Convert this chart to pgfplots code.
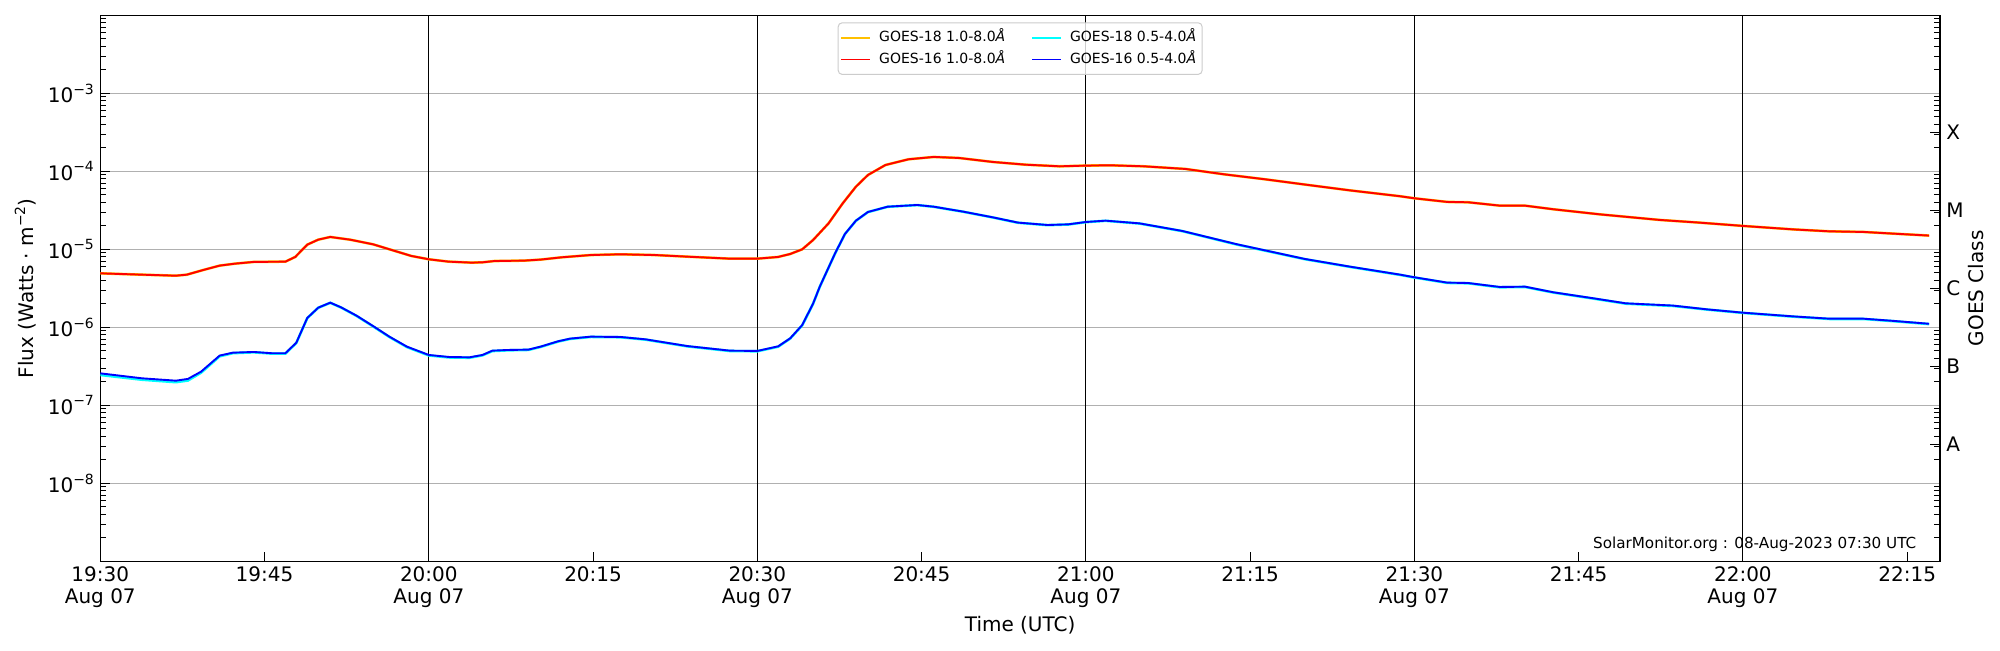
\documentclass[border=0pt]{standalone}
\usepackage{fontspec}
\setmainfont{DejaVu Sans}
\usepackage{pgfplots}
\usepackage{pgfplotstable}
\pgfplotsset{compat=1.18}
\definecolor{goesgold}{RGB}{255,192,0}
\definecolor{goescyan}{RGB}{0,255,255}
\definecolor{gridgray}{RGB}{176,176,176}
\definecolor{leggray}{RGB}{204,204,204}
\newcommand{\sexp}[1]{\raisebox{4.3pt}{\fontsize{7}{7}\selectfont −#1}}

\pgfplotstableread{
t f
0 4.92e-6
3.8 4.73e-6
6.9 4.59e-6
7.9 4.73e-6
9.4 5.43e-6
10.9 6.18e-6
12.3 6.55e-6
14 6.89e-6
16.9 6.95e-6
17.8 7.98e-6
18.9 1.148e-5
19.9 1.33e-5
21 1.44e-5
22.8 1.33e-5
24.9 1.16e-5
26.8 9.62e-6
28.4 8.22e-6
30 7.45e-6
31.8 6.95e-6
33.9 6.75e-6
34.9 6.81e-6
36 7.08e-6
38.7 7.16e-6
40.2 7.38e-6
42.1 7.89e-6
44.8 8.45e-6
47.5 8.63e-6
50.6 8.45e-6
53.6 8.05e-6
57.5 7.59e-6
60 7.59e-6
61.9 7.98e-6
63 8.71e-6
64.1 1.0e-5
65.1 1.32e-5
66.5 2.15e-5
67.8 3.89e-5
69 6.35e-5
70.1 8.97e-5
71.7 1.205e-4
73.8 1.426e-4
76.1 1.528e-4
78.4 1.483e-4
81.5 1.318e-4
84.5 1.216e-4
87.6 1.159e-4
90 1.183e-4
92.2 1.194e-4
95.3 1.159e-4
99.1 1.072e-4
102.6 9.16e-5
106.4 7.89e-5
110.3 6.68e-5
114.1 5.70e-5
118.7 4.79e-5
120 4.51e-5
123 4.05e-5
124.9 4.01e-5
127.8 3.63e-5
130.1 3.63e-5
132.7 3.26e-5
136.9 2.81e-5
142.4 2.38e-5
146 2.20e-5
150 1.995e-5
154.6 1.80e-5
157.9 1.70e-5
161 1.67e-5
163.7 1.59e-5
167 1.50e-5
}\tlong

\pgfplotstableread{
t f
0 2.57e-7
3.8 2.22e-7
6.9 2.07e-7
8 2.18e-7
9.2 2.70e-7
10.9 4.34e-7
12.1 4.73e-7
14 4.83e-7
15.7 4.65e-7
16.9 4.65e-7
17.9 6.35e-7
18.9 1.318e-6
19.9 1.786e-6
21 2.07e-6
22 1.80e-6
23.4 1.41e-6
24.9 1.04e-6
26.4 7.59e-7
28 5.65e-7
30 4.42e-7
31.8 4.17e-7
33.7 4.12e-7
34.9 4.42e-7
35.8 5.02e-7
37.2 5.12e-7
39.1 5.18e-7
40.2 5.65e-7
41.8 6.62e-7
42.9 7.16e-7
44.8 7.59e-7
47.5 7.52e-7
49.8 7.01e-7
53.6 5.75e-7
57.5 5.02e-7
60 4.98e-7
61.9 5.70e-7
63 7.23e-7
64.1 1.07e-6
65.1 2.03e-6
65.7 3.32e-6
67.1 8.89e-6
68 1.574e-5
69 2.33e-5
70.1 3.01e-5
71.9 3.52e-5
74.6 3.70e-5
76.1 3.52e-5
78.8 3.04e-5
81.5 2.57e-5
83.8 2.20e-5
86.5 2.05e-5
88.4 2.09e-5
90 2.24e-5
91.8 2.33e-5
94.9 2.15e-5
98.8 1.72e-5
103.8 1.16e-5
110 7.52e-6
114.1 6.00e-6
118.7 4.73e-6
120 4.38e-6
123 3.74e-6
124.9 3.70e-6
127.8 3.29e-6
130.1 3.32e-6
132.7 2.81e-6
136.3 2.36e-6
139.3 2.03e-6
143.6 1.90e-6
146.7 1.70e-6
150 1.54e-6
154.6 1.38e-6
157.9 1.29e-6
161 1.29e-6
163.7 1.21e-6
167 1.11e-6
}\tshort

\pgfplotstableread{
t f
0 2.45e-7
3.8 2.13e-7
6.9 1.98e-7
8 2.08e-7
9.2 2.62e-7
10.9 4.25e-7
12.1 4.66e-7
14 4.78e-7
15.7 4.60e-7
16.9 4.60e-7
17.9 6.30e-7
18.9 1.31e-6
19.9 1.78e-6
21 2.06e-6
22 1.79e-6
23.4 1.40e-6
24.9 1.03e-6
26.4 7.52e-7
28 5.58e-7
30 4.36e-7
31.8 4.11e-7
33.7 4.07e-7
34.9 4.37e-7
35.8 4.96e-7
37.2 5.07e-7
39.1 5.13e-7
40.2 5.60e-7
41.8 6.56e-7
42.9 7.10e-7
44.8 7.53e-7
47.5 7.46e-7
49.8 6.95e-7
53.6 5.70e-7
57.5 4.97e-7
60 4.93e-7
61.9 5.64e-7
63 7.18e-7
64.1 1.06e-6
65.1 2.02e-6
65.7 3.30e-6
67.1 8.85e-6
68 1.57e-5
69 2.32e-5
70.1 3.00e-5
71.9 3.51e-5
74.6 3.69e-5
76.1 3.51e-5
78.8 3.03e-5
81.5 2.56e-5
83.8 2.19e-5
86.5 2.04e-5
88.4 2.08e-5
90 2.23e-5
91.8 2.32e-5
94.9 2.14e-5
98.8 1.71e-5
103.8 1.15e-5
110 7.47e-6
114.1 5.96e-6
118.7 4.70e-6
120 4.35e-6
123 3.71e-6
124.9 3.67e-6
127.8 3.26e-6
130.1 3.29e-6
132.7 2.79e-6
136.3 2.34e-6
139.3 2.01e-6
143.6 1.88e-6
146.7 1.69e-6
150 1.53e-6
154.6 1.37e-6
157.9 1.28e-6
161 1.28e-6
163.7 1.20e-6
167 1.10e-6
}\tshorteighteen

\begin{document}
\begin{tikzpicture}
\begin{axis}[
  at={(0,0)}, anchor=south west,
  scale only axis, width=919.85pt, height=273pt,
  xmin=0, xmax=168,
  ymode=log, ymin=1e-9, ymax=1e-2,
  axis line style={line width=0.6pt},
  tick align=inside, tick pos=left,
  major tick length=4.8pt, minor tick length=3pt,
  every tick/.style={black, line width=0.55pt},
  xtick={15,45,75,105,135,165},
  xticklabels={{19:45},{20:15},{20:45},{21:15},{21:45},{22:15}},
  extra x ticks={0,30,60,90,120,150},
  extra x tick labels={{19:30\\Aug 07},{20:00\\Aug 07},{20:30\\Aug 07},{21:00\\Aug 07},{21:30\\Aug 07},{22:00\\Aug 07}},
  extra x tick style={major tick length=0pt, grid=major, major grid style={black, line width=0.55pt}},
  xticklabel style={anchor=north, align=center, inner sep=0pt, yshift=-2.7pt, font=\fontsize{10}{11}\selectfont},
  ytick={1e-8,1e-7,1e-6,1e-5,1e-4,1e-3},
  yticklabels={10\sexp{8},10\sexp{7},10\sexp{6},10\sexp{5},10\sexp{4},10\sexp{3}},
  minor ytick={2e-9,3e-9,4e-9,5e-9,6e-9,7e-9,8e-9,9e-9,2e-8,3e-8,4e-8,5e-8,6e-8,7e-8,8e-8,9e-8,2e-7,3e-7,4e-7,5e-7,6e-7,7e-7,8e-7,9e-7,2e-6,3e-6,4e-6,5e-6,6e-6,7e-6,8e-6,9e-6,2e-5,3e-5,4e-5,5e-5,6e-5,7e-5,8e-5,9e-5,2e-4,3e-4,4e-4,5e-4,6e-4,7e-4,8e-4,9e-4,2e-3,3e-3,4e-3,5e-3,6e-3,7e-3,8e-3,9e-3},
  yticklabel style={anchor=east, inner sep=0pt, xshift=-3pt, font=\fontsize{10}{11}\selectfont},
  ymajorgrids, major grid style={gridgray, line width=0.55pt},
  xlabel={Time (UTC)},
  xlabel style={at={(axis description cs:0.5,0)}, anchor=north, inner sep=0pt, yshift=-27.3pt, font=\fontsize{10}{12}\selectfont},
  ylabel={Flux (Watts · m\raisebox{4.3pt}{\fontsize{7}{7}\selectfont −2})},
  ylabel style={at={(axis description cs:0,0.5)}, anchor=center, inner sep=0pt, yshift=37.4pt, font=\fontsize{10}{12}\selectfont},
  legend columns=2,
  legend style={at={(0.5,1)}, anchor=north, yshift=-3.5pt, draw=leggray, line width=0.5pt, rounded corners=2pt,
    fill=white, fill opacity=0.8, text opacity=1, draw opacity=1,
    inner xsep=1.3pt, inner ysep=2.1pt,
    font=\fontsize{7}{8.4}\selectfont,
    nodes={inner sep=1.7pt, text height=5.6pt, text depth=1.8pt},
    /tikz/every odd column/.append style={column sep=2.3pt},
    /tikz/every even column/.append style={column sep=11.5pt}},
  legend cell align=left,
  legend image code/.code={\draw[#1, line width=0.7pt] (0pt,0pt) -- (14.5pt,0pt);},
]
\addplot[goesgold, line width=1.3pt] table[x=t,y=f] {\tlong};
\addlegendentry{GOES-18 1.0-8.0\textit{Å}}
\addplot[goescyan, line width=1.3pt] table[x=t,y=f] {\tshorteighteen};
\addlegendentry{GOES-18 0.5-4.0\textit{Å}}
\addplot[red, line width=0.95pt] table[x=t,y=f] {\tlong};
\addlegendentry{GOES-16 1.0-8.0\textit{Å}}
\addplot[blue, line width=0.95pt] table[x=t,y=f] {\tshort};
\addlegendentry{GOES-16 0.5-4.0\textit{Å}}
\node[anchor=base east, inner sep=0pt, xshift=-11.65pt, yshift=6.2pt, font=\fontsize{7.6}{9}\selectfont] at (rel axis cs:1,0) {SolarMonitor.org : 08-Aug-2023 07:30 UTC};
\end{axis}
\begin{axis}[
  at={(0,0)}, anchor=south west,
  scale only axis, width=919.85pt, height=273pt,
  xmin=0, xmax=168,
  ymode=log, ymin=1e-9, ymax=1e-2,
  axis x line=none, axis y line*=right,
  axis line style={line width=0.6pt, -},
  tick align=inside,
  major tick length=4.8pt, minor tick length=3pt,
  every tick/.style={black, line width=0.55pt},
  ytick={3.1623e-8,3.1623e-7,3.1623e-6,3.1623e-5,3.1623e-4},
  yticklabels={A,B,C,M,X},
  minor ytick={2e-9,3e-9,4e-9,5e-9,6e-9,7e-9,8e-9,9e-9,2e-8,3e-8,4e-8,5e-8,6e-8,7e-8,8e-8,9e-8,2e-7,3e-7,4e-7,5e-7,6e-7,7e-7,8e-7,9e-7,2e-6,3e-6,4e-6,5e-6,6e-6,7e-6,8e-6,9e-6,2e-5,3e-5,4e-5,5e-5,6e-5,7e-5,8e-5,9e-5,2e-4,3e-4,4e-4,5e-4,6e-4,7e-4,8e-4,9e-4,2e-3,3e-3,4e-3,5e-3,6e-3,7e-3,8e-3,9e-3},
  yticklabel style={anchor=west, inner sep=0pt, xshift=3pt, font=\fontsize{10}{11}\selectfont},
  ylabel={GOES Class},
  ylabel style={at={(axis description cs:1,0.5)}, anchor=center, inner sep=0pt, yshift=-18pt, font=\fontsize{10}{12}\selectfont},
]
\end{axis}
\pgfresetboundingbox
\path[use as bounding box] (-50.15pt,-44.35pt) rectangle (949.85pt,280.65pt);
\end{tikzpicture}
\end{document}
